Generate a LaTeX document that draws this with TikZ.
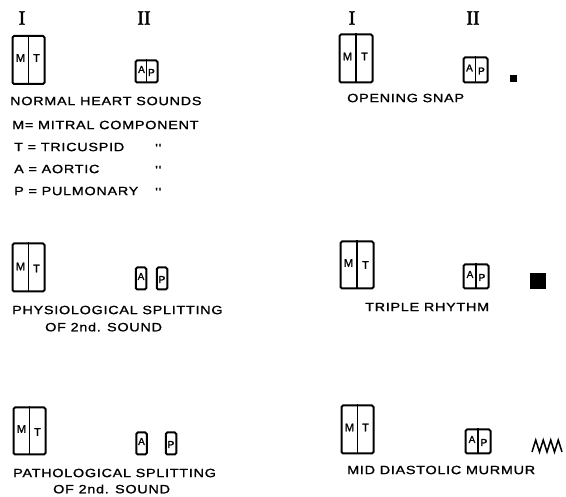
\documentclass[tikz,border=0pt]{standalone}
\usepackage{fontspec}
\setmainfont{Liberation Sans}
\newfontfamily\lett[FakeStretch=1.2,LetterSpace=6,FakeBold=1.2]{Liberation Sans}
\newfontfamily\inlett[FakeBold=1.5]{Liberation Sans}
\newfontfamily\romn[FakeBold=2]{Liberation Serif}
\begin{document}
\begin{tikzpicture}[x=1pt,y=-1pt,
  snd/.style={draw,line width=2pt,rounded corners=1.5pt,inner sep=0pt,minimum width=32pt,minimum height=48pt},
  small/.style={draw,line width=2pt,rounded corners=1.5pt,inner sep=0pt,minimum width=24pt,minimum height=24pt},
  half/.style={draw,line width=2pt,rounded corners=1.5pt,inner sep=0pt,minimum width=10.5pt,minimum height=22pt},
  divl/.style={line width=1.5pt},
  inl/.style={inner sep=0pt,font=\inlett\fontsize{11}{11}\selectfont},
  inls/.style={inner sep=0pt,font=\inlett\fontsize{10}{10}\selectfont},
  lab/.style={anchor=west,inner sep=0pt,font=\lett\fontsize{12}{12}\selectfont},
  num/.style={inner sep=0pt,font=\romn\fontsize{20}{20}\selectfont}]
\useasboundingbox (0,0) rectangle (566,497);
\fill[white] (0,0) rectangle (566,497);

% headers
\node[num] (h1) at (22,18) {I};
\node[num] (h2) at (144,18) {II};
\node[num] (h3) at (352,18) {I};
\node[num] (h4) at (473,18) {II};

% ---------- panel 1: normal ----------
\node[snd] (mt1) at (28.5,60) {};
\draw[divl] (mt1.north) -- (mt1.south);
\node[inl] (m1) at ([xshift=-8pt,yshift=2pt]mt1.center) {M};
\node[inl] (t1) at ([xshift=8pt,yshift=2pt]mt1.center) {T};
\node[small,minimum width=22pt,minimum height=22pt] (ap1) at (146.5,71.5) {};
\draw[divl] (ap1.north) -- (ap1.south);
\node[inls] (a1) at ([xshift=-5pt,yshift=2pt]ap1.center) {A};
\node[inls] (p1) at ([xshift=5pt,yshift=-1pt]ap1.center) {P};
\node[lab] (l1) at (10,101) {NORMAL HEART SOUNDS};
\node[lab] (l1b) at (12,125) {M= MITRAL COMPONENT};
\node[lab] (l1c) at (14,147) {T = TRICUSPID};
\node[lab] (l1d) at (14,169) {A = AORTIC};
\node[lab] (l1e) at (14,191) {P = PULMONARY};
\node[lab] (d1) at (155,148) {''};
\node[lab] (d2) at (155,170) {''};
\node[lab] (d3) at (155,192) {''};

% ---------- panel 2: opening snap ----------
\node[snd,minimum width=33pt] (mt2) at (356,58.5) {};
\draw[divl] (mt2.north) -- (mt2.south);
\node[inl] (m2) at ([xshift=-8.5pt,yshift=2pt]mt2.center) {M};
\node[inl] (t2) at ([xshift=8.5pt,yshift=2pt]mt2.center) {T};
\node[small,minimum height=25pt] (ap2) at (475.5,70) {};
\draw[divl] (ap2.north) -- (ap2.south);
\node[inls] (a2) at ([xshift=-6pt,yshift=2pt]ap2.center) {A};
\node[inls] (p2) at ([xshift=6pt,yshift=-1pt]ap2.center) {P};
\node[fill=black,inner sep=0pt,minimum size=7pt] (os) at (513,79) {};
\node[lab] (l2) at (347,98) {OPENING SNAP};

% ---------- panel 3: physiological splitting ----------
\node[snd] (mt3) at (28.5,267.5) {};
\draw[divl] (mt3.north) -- (mt3.south);
\node[inl] (m3) at ([xshift=-8pt,yshift=1pt]mt3.center) {M};
\node[inl] (t3) at ([xshift=8pt,yshift=-1pt]mt3.center) {T};
\node[half] (a3b) at (141,278.5) {};
\node[inls] (a3) at ([yshift=2pt]a3b.center) {A};
\node[half] (p3b) at (162,278.5) {};
\node[inls] (p3) at ([yshift=-1pt]p3b.center) {P};
\node[lab] (l3) at (12,310) {PHYSIOLOGICAL SPLITTING};
\node[lab] (l3b) at (45,327) {OF 2nd. SOUND};

% ---------- panel 4: triple rhythm ----------
\node[snd,minimum width=33pt,minimum height=47pt] (mt4) at (357,265) {};
\draw[divl] (mt4.north) -- (mt4.south);
\node[inl] (m4) at ([xshift=-8.5pt,yshift=2pt]mt4.center) {M};
\node[inl] (t4) at ([xshift=8.5pt,yshift=0pt]mt4.center) {T};
\node[small,minimum width=25pt] (ap4) at (476,276.5) {};
\draw[divl] (ap4.north) -- (ap4.south);
\node[inls] (a4) at ([xshift=-6pt,yshift=2pt]ap4.center) {A};
\node[inls] (p4) at ([xshift=6pt,yshift=-1pt]ap4.center) {P};
\node[fill=black,inner sep=0pt,minimum size=16pt] (tr) at (538,281) {};
\node[lab] (l4) at (365,307) {TRIPLE RHYTHM};

% ---------- panel 5: pathological splitting ----------
\node[snd,minimum height=47pt] (mt5) at (29.5,431) {};
\draw[divl] (mt5.north) -- (mt5.south);
\node[inl] (m5) at ([xshift=-8pt,yshift=2pt]mt5.center) {M};
\node[inl] (t5) at ([xshift=8pt,yshift=-1pt]mt5.center) {T};
\node[half] (a5b) at (141.5,443.5) {};
\node[inls] (a5) at ([yshift=2pt]a5b.center) {A};
\node[half] (p5b) at (171,443.5) {};
\node[inls] (p5) at ([yshift=-1pt]p5b.center) {P};
\node[lab] (l5) at (13,473) {PATHOLOGICAL SPLITTING};
\node[lab] (l5b) at (53,489) {OF 2nd. SOUND};

% ---------- panel 6: mid diastolic murmur ----------
\node[snd] (mt6) at (357.5,429.5) {};
\draw[divl] (mt6.north) -- (mt6.south);
\node[inl] (m6) at ([xshift=-8pt,yshift=2pt]mt6.center) {M};
\node[inl] (t6) at ([xshift=8pt,yshift=2pt]mt6.center) {T};
\node[small,minimum width=25pt] (ap6) at (478,441.5) {};
\draw[divl] (ap6.north) -- (ap6.south);
\node[inls] (a6) at ([xshift=-6pt,yshift=2pt]ap6.center) {A};
\node[inls] (p6) at ([xshift=6pt,yshift=-1pt]ap6.center) {P};
\draw[line width=1.5pt,line join=miter] (532,452) -- (535.75,440) -- (539.5,452) -- (543.25,440) -- (547,452) -- (550.75,440) -- (554.5,452) -- (558.25,440) -- (562,452);
\node[lab] (l6) at (347,470) {MID DIASTOLIC MURMUR};
\end{tikzpicture}
\end{document}
